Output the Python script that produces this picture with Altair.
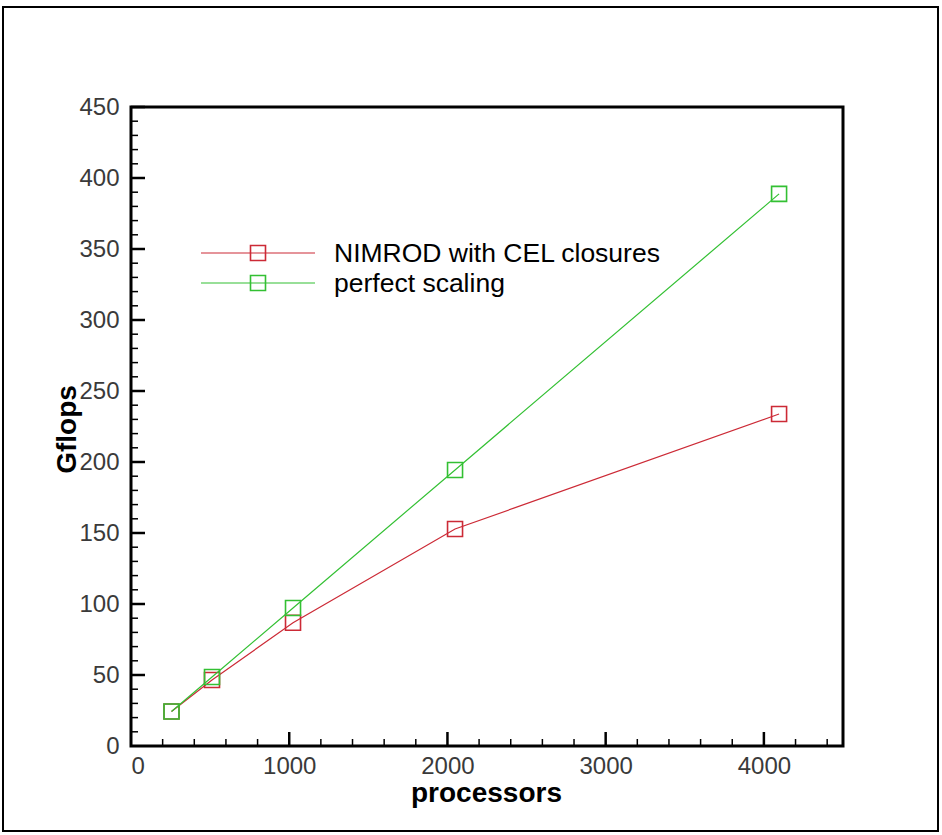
import altair as alt
import pandas as pd

# Strong-scaling benchmark: sustained Gflops against processor count
processors = [256, 512, 1024, 2048, 4096]
nimrod_gflops = [24.3, 46.5, 86.8, 152.8, 233.8]
perfect_gflops = [24.3, 48.6, 97.2, 194.4, 388.8]

series_names = ["NIMROD with CEL closures", "perfect scaling"]
series_colors = ["#cc2a36", "#33c033"]

x_major = [0, 1000, 2000, 3000, 4000]
x_minor = [v for v in range(200, 4500, 200) if v % 1000]
y_major = list(range(0, 451, 50))
y_minor = [v for v in range(10, 450, 10) if v % 50]

W, H = 712, 639
FONT = "Liberation Sans"

xs = alt.Scale(domain=[0, 4500], nice=False, zero=True)
ys = alt.Scale(domain=[0, 450], nice=False, zero=True)

x_axis = alt.Axis(
    values=x_major, format="d", grid=False, ticks=False, tickSize=0, domain=False,
    labelFont=FONT, labelFontSize=24, labelColor="#3a3a3a", labelPadding=8,
    title="processors", titleFont=FONT, titleFontSize=28, titleFontWeight="bold",
    titleX=355, titleY=55, titleAlign="center", titleBaseline="alphabetic",
    titleColor="black",
)
y_axis = alt.Axis(
    values=y_major, format="d", grid=False, ticks=False, tickSize=0, domain=False,
    labelFont=FONT, labelFontSize=24, labelColor="#3a3a3a", labelPadding=12,
    title="Gflops", titleFont=FONT, titleFontSize=28, titleFontWeight="bold",
    titleAngle=270, titleX=-56, titleY=322, titleAlign="center",
    titleBaseline="alphabetic", titleColor="black",
)

def series_frame(values):
    return pd.DataFrame({"processors": processors, "gflops": values})

def series_layers(values, color):
    base = alt.Chart(series_frame(values)).encode(
        x=alt.X("processors:Q", scale=xs, axis=x_axis),
        y=alt.Y("gflops:Q", scale=ys, axis=y_axis),
    )
    line = base.mark_line(color=color, strokeWidth=1.2)
    pts = base.mark_point(shape="square", size=225, filled=False,
                          color=color, strokeWidth=1.6, opacity=1)
    return [line, pts]

# Inward tick marks along the bottom and left axes
x_major_ticks = alt.Chart(pd.DataFrame({"v": x_major[1:]})).mark_rule(
    color="black", strokeWidth=2.5).encode(
    x=alt.X("v:Q", scale=xs), y=alt.value(H), y2=alt.value(H - 14))
x_minor_ticks = alt.Chart(pd.DataFrame({"v": x_minor})).mark_rule(
    color="black", strokeWidth=1.5).encode(
    x=alt.X("v:Q", scale=xs), y=alt.value(H), y2=alt.value(H - 7))
y_major_ticks = alt.Chart(pd.DataFrame({"v": y_major[1:]})).mark_rule(
    color="black", strokeWidth=2.5).encode(
    y=alt.Y("v:Q", scale=ys), x=alt.value(0), x2=alt.value(14))
y_minor_ticks = alt.Chart(pd.DataFrame({"v": y_minor})).mark_rule(
    color="black", strokeWidth=1.5).encode(
    y=alt.Y("v:Q", scale=ys), x=alt.value(0), x2=alt.value(7))

# Legend drawn inside the plot: line with a square marker, then the label
legend_layers = []
for i, (name, color) in enumerate(zip(series_names, series_colors)):
    row = 146 + 30 * i
    one = alt.Chart(pd.DataFrame({"label": [name]}))
    legend_layers.append(one.mark_rule(color=color, strokeWidth=1.2).encode(
        x=alt.value(70), x2=alt.value(184), y=alt.value(row)))
    legend_layers.append(one.mark_point(shape="square", size=225, filled=False,
                                        color=color, strokeWidth=1.6, opacity=1).encode(
        x=alt.value(127), y=alt.value(row)))
    legend_layers.append(one.mark_text(align="left", baseline="middle", font=FONT,
                                       fontSize=26.5, color="black").encode(
        x=alt.value(203), y=alt.value(row + 1), text="label:N"))

# Thin frame around the whole figure
frame = alt.Chart(pd.DataFrame({"f": [0]})).mark_rect(
    fillOpacity=0, stroke="black", strokeWidth=2).encode(
    x=alt.value(-128), x2=alt.value(807), y=alt.value(-100), y2=alt.value(724))

layers = (series_layers(nimrod_gflops, series_colors[0])
          + series_layers(perfect_gflops, series_colors[1])
          + [x_major_ticks, x_minor_ticks, y_major_ticks, y_minor_ticks]
          + legend_layers + [frame])

chart = alt.layer(*layers).properties(
    width=W, height=H, autosize="none",
    padding={"left": 131, "top": 107, "right": 99, "bottom": 89},
    background="white",
).configure_view(stroke="black", strokeWidth=3)

chart.save("out.html", embed_options={"renderer": "svg", "actions": False})
